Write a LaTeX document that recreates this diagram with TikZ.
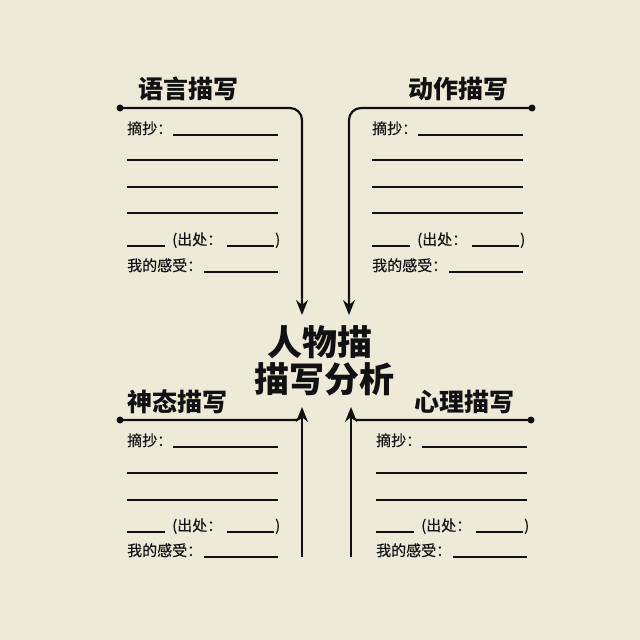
\documentclass[tikz,border=0pt]{standalone}
\usepackage{fontspec}
\setmainfont{Noto Sans CJK SC}
\newfontfamily\bodyfont[FakeBold=0.35]{Noto Sans CJK SC}
\newfontfamily\titlefont{Noto Sans CJK SC Black}
\newfontfamily\bigfont{Noto Sans CJK SC Black}
\usetikzlibrary{arrows.meta}
\definecolor{paper}{HTML}{EEEAD8}
\definecolor{ink}{HTML}{111111}
\tikzset{
  body/.style={inner sep=0pt, font=\bodyfont\fontsize{15}{17}\selectfont, text=ink},
  ttl/.style={inner sep=0pt, font=\titlefont\fontsize{25}{28}\selectfont, text=ink},
  bigttl/.style={inner sep=0pt, font=\bigfont\fontsize{35}{38}\selectfont, text=ink, align=center},
  blank/.style={draw=ink, line width=1.4pt},
  conn/.style={draw=ink, line width=2.2pt},
  arr/.style={draw=ink, line width=2.2pt, -{Stealth[length=15pt,width=12pt]}},
  dot/.style={circle, fill=ink, inner sep=0pt, minimum size=7pt},
}
\newcommand\mypanel[6]{%
  \node[body,anchor=base west] (#1z) at (#2,#3-1) {摘抄：};
  \draw[blank] (#2+46,#3) -- (#2+151,#3);
  \foreach \yy in {#4} {\draw[blank] (#2,\yy) -- (#2+151,\yy);}
  \draw[blank] (#2,#5) -- (#2+38,#5);
  \node[body,anchor=base west] (#1c) at (#2+45,#5-1) {(出处：};
  \draw[blank] (#2+100,#5) -- (#2+147,#5);
  \node[body,anchor=base west] (#1p) at (#2+148,#5-1) {)};
  \node[body,anchor=base west] (#1g) at (#2,#6-1) {我的感受：};
  \draw[blank] (#2+77,#6) -- (#2+151,#6);
}
\begin{document}
\begin{tikzpicture}[x=1pt,y=-1pt]
\fill[paper] (0,0) rectangle (640,640);
\useasboundingbox (0,0) rectangle (640,640);

% center title
\node[bigttl] (c1) at (320,342) {人物描};
\node[bigttl] (c2) at (324,379) {描写分析};

% titles
\node[ttl] (t1) at (188,89) {语言描写};
\node[ttl] (t2) at (458,89) {动作描写};
\node[ttl] (t3) at (177,402) {神态描写};
\node[ttl] (t4) at (464,402) {心理描写};

% dots
\node[dot] (d1) at (120,108) {};
\node[dot] (d2) at (532,108) {};
\node[dot] (d3) at (120,420) {};
\node[dot] (d4) at (531,420) {};

% arrow ends
\coordinate (a1) at (302,315);
\coordinate (a2) at (349,315);
\coordinate (a3) at (302,407);
\coordinate (a4) at (351,407);
\coordinate (s3) at (302,557);
\coordinate (s4) at (351,557);

% top connectors
\draw[arr, rounded corners=12pt] (d1.center) -- (302,108) -- (a1);
\draw[arr, rounded corners=12pt] (d2.center) -- (349,108) -- (a2);
% bottom connectors
\draw[arr] (s3) -- (a3);
\draw[arr] (s4) -- (a4);
\draw[conn] (d3.center) -- (293,420) .. controls (300,420) and (302,418) .. (302,410);
\draw[conn] (d4.center) -- (360,420) .. controls (353,420) and (351,418) .. (351,410);

% panels
\mypanel{p1}{127}{135}{160,187,213}{246}{272}
\mypanel{p2}{372}{135}{160,187,213}{246}{272}
\mypanel{p3}{127}{447}{473,500}{532}{557}
\mypanel{p4}{376}{447}{473,500}{532}{557}
\end{tikzpicture}
\end{document}
